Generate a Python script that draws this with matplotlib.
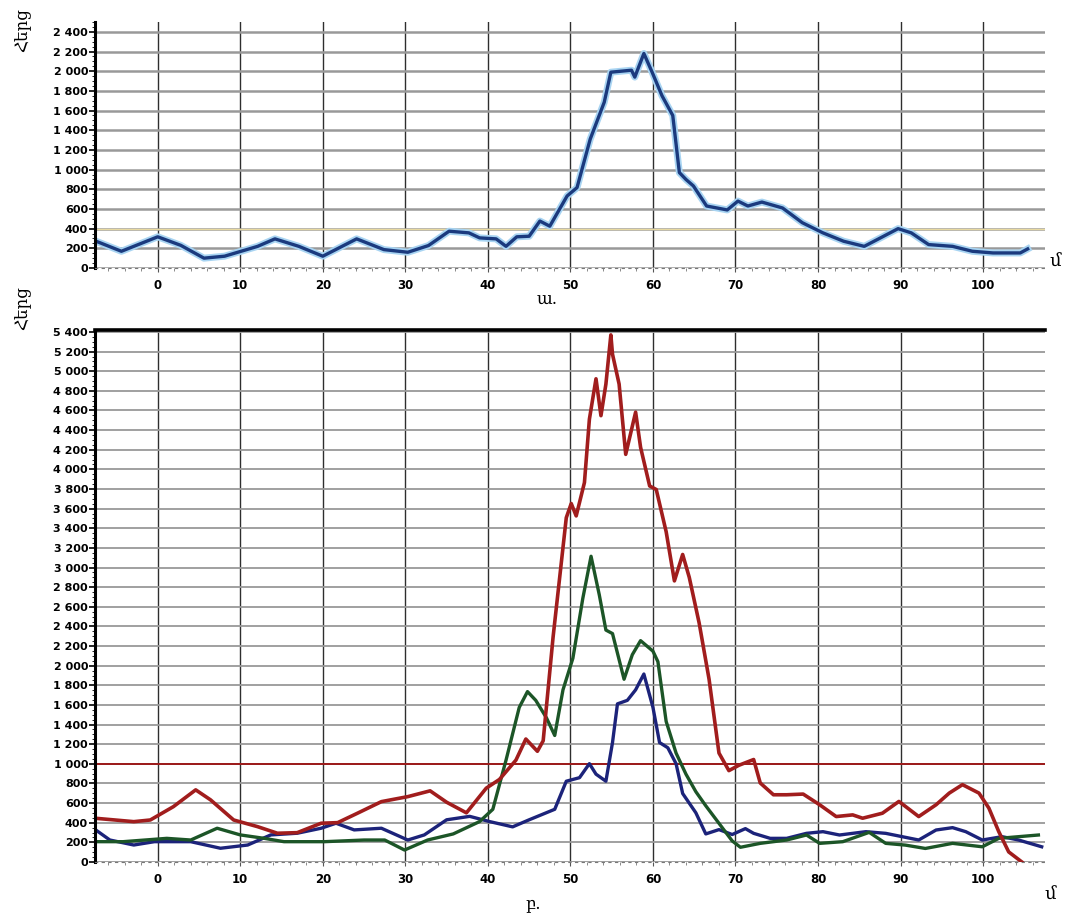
import numpy as np
import matplotlib
matplotlib.use("Agg")
import matplotlib.pyplot as plt
from matplotlib.ticker import FuncFormatter, MultipleLocator

# top chart (ա.) - one series
top_x = [-8, -4.4, 0, 2.8, 5.6, 8.1, 12.1, 14.2, 17.1, 20, 24.1, 27.4, 30.3, 32.8,
         35.3, 37.7, 39, 41, 42.2, 43.5, 45, 46.3, 47.5, 49.6, 50.8, 52.4, 54.1,
         54.9, 57.4, 57.8, 58.9, 59.9, 61.1, 62.4, 63.2, 64, 64.9, 66.5, 69, 70.3,
         71.5, 73.2, 75.7, 78.1, 80.6, 83.1, 85.6, 87.2, 89.7, 91.3, 93.4, 96.3,
         98.7, 101.2, 104.5, 105.4]
top_y = [290, 170, 317, 230, 100, 120, 220, 296, 220, 120, 296, 187, 160, 228,
         374, 357, 306, 296, 220, 317, 323, 477, 425, 732, 817, 1310, 1685,
         1990, 2010, 1940, 2180, 1990, 1750, 1550, 970, 900, 834, 630, 590, 680,
         630, 670, 610, 460, 357, 272, 220, 290, 400, 357, 238, 220,
         170, 153, 153, 194]

# bottom chart (բ.) - three series
red_x = [-7.6, -2.9, -0.9, 1.9, 4.6, 6.4, 9.2, 12.1, 14.5, 16.9, 19.8, 21.8, 24.2,
         27.1, 30.3, 33.0, 35, 37.4, 39.8, 41.4, 43.4, 44.6, 46, 46.7, 47.9, 49.5,
         50.1, 50.7, 51.7, 52.3, 53.1, 53.7, 54.3, 54.9, 55.1, 55.9, 56.7, 57.3,
         57.9, 58.5, 59.6, 60.4, 61.6, 62.6, 63.6, 64.4, 65.6, 66.8, 68, 69.2,
         70.4, 72.2, 73, 74.6, 76.2, 78.2, 80.2, 82.2, 84.2, 85.4, 87.8, 89.8,
         92.2, 94.3, 95.9, 97.5, 99.5, 100.7, 101.9, 103.1, 104.7]
red_y = [446, 411, 428, 564, 735, 633, 428, 360, 293, 299, 395, 401, 497,
         615, 666, 725, 609, 501, 752, 841, 1038, 1253, 1128, 1235, 2291, 3508,
         3652, 3526, 3866, 4511, 4923, 4547, 4869, 5370, 5173, 4869, 4153, 4368,
         4583, 4225, 3831, 3795, 3365, 2864, 3133, 2900, 2434, 1862, 1110, 931,
         985, 1044, 805, 685, 685, 692, 583, 463, 480, 446, 497, 617,
         463, 583, 702, 788, 702, 549, 309, 103, 0]

green_x = [-7.6, -4.2, 1.1, 4, 7.2, 10, 12.9, 15.3, 20.2, 25, 27.5, 29.9, 32.7,
           35.8, 39, 40.6, 42.2, 43.8, 44.8, 45.8, 47.1, 48.1, 49.1, 50.3, 51.5,
           52.5, 53.5, 54.3, 55.1, 56.5, 57.5, 58.5, 60, 60.6, 61.6, 62.8, 64,
           65.2, 66.4, 68, 69.6, 70.6, 73, 76.2, 78.6, 80.2, 83, 86.2, 88.2, 90.6,
           93, 96.3, 99.9, 101.9, 104.3, 106.7]
green_y = [207, 207, 241, 224, 344, 276, 241, 207, 207, 224, 224, 122, 224,
           286, 412, 537, 1038, 1575, 1736, 1647, 1468, 1289, 1754, 2076, 2685,
           3115, 2721, 2363, 2327, 1862, 2112, 2255, 2148, 2041, 1432, 1110, 895,
           716, 573, 394, 215, 150, 190, 224, 275, 190, 207, 302, 190, 172,
           138, 190, 155, 241, 258, 275]

blue_x = [-7.8, -5.8, -2.9, -0.4, 4, 7.6, 10.9, 13.7, 16.9, 19.8, 21.6, 23.8, 27.1,
          30.3, 32.3, 35, 37.8, 40.2, 43, 45, 48.1, 49.5, 51.1, 52.3, 53.1, 54.3,
          55.1, 55.7, 56.9, 57.9, 58.9, 60, 60.8, 61.8, 62.8, 63.6, 65.2, 66.4,
          68, 69.6, 71.2, 72.2, 74.2, 76.2, 78.6, 80.6, 82.6, 85.8, 88.2, 90.2,
          92.2, 94.3, 96.3, 97.9, 99.9, 102.3, 104.3, 107.1]
blue_y = [344, 224, 173, 207, 207, 140, 173, 276, 293, 344, 395, 327, 344,
          224, 276, 430, 465, 412, 358, 430, 537, 823, 859, 1002, 895, 823,
          1217, 1611, 1647, 1754, 1915, 1575, 1217, 1164, 1002, 698, 501, 286,
          330, 280, 340, 292, 241, 241, 292, 309, 275, 309, 292, 258,
          224, 326, 350, 309, 224, 258, 224, 155]

threshold = 1000
x_ticks = list(range(0, 101, 10))

serif = ["DejaVu Serif", "DejaVu Sans"]


def fmt(v, pos):
    v = int(round(v))
    if v >= 1000:
        return "%d %03d" % (v // 1000, v % 1000)
    return str(v)


def style_axes(ax, ymax, grid_lw):
    ax.set_xlim(-7.6, 107.5)
    ax.set_ylim(0, ymax)
    ax.set_xticks(x_ticks)
    ax.xaxis.set_minor_locator(MultipleLocator(2))
    ax.yaxis.set_major_locator(MultipleLocator(200))
    ax.yaxis.set_minor_locator(MultipleLocator(50))
    ax.yaxis.set_major_formatter(FuncFormatter(fmt))
    ax.grid(axis="x", color="#2e2e2e", lw=1.0)
    ax.grid(axis="y", color="#999999", lw=grid_lw)
    ax.set_axisbelow(True)
    for s in ["right", "top"]:
        ax.spines[s].set_visible(False)
    ax.spines["left"].set_linewidth(2.2)
    ax.spines["bottom"].set_linestyle((0, (2, 4)))
    ax.spines["bottom"].set_color("#777777")
    ax.tick_params(axis="x", length=3, color="#555555", labelsize=8.5, pad=5)
    ax.tick_params(axis="x", which="minor", length=2, color="#777777")
    ax.tick_params(axis="y", length=4, width=1.2, labelsize=8, pad=1)
    ax.tick_params(axis="y", which="minor", length=2)
    for lab in ax.get_xticklabels() + ax.get_yticklabels():
        lab.set_fontweight("bold")


fig = plt.figure(figsize=(10.66, 9.17), dpi=100)

ax1 = fig.add_axes([95 / 1066, 1 - 268 / 917, 950 / 1066, 246 / 917])
style_axes(ax1, 2500, 1.8)
ax1.axhline(400, color="#e8d9a0", lw=1.0, zorder=1)
ax1.plot(top_x, top_y, color="#a8d4f2", lw=5, solid_joinstyle="round")
ax1.plot(top_x, top_y, color="#1b3a7e", lw=2.4, solid_joinstyle="round")

ax2 = fig.add_axes([95 / 1066, 1 - 862 / 917, 950 / 1066, 532 / 917])
style_axes(ax2, 5420, 1.3)
ax2.spines["top"].set_visible(True)
ax2.spines["top"].set_linewidth(2.6)
ax2.axhline(threshold, color="#9c1a1a", lw=1.4)
ax2.plot(blue_x, blue_y, color="#1c237a", lw=2.4)
ax2.plot(green_x, green_y, color="#1c5527", lw=2.4)
ax2.plot(red_x, red_y, color="#a11d1d", lw=2.6)

fig.text(23 / 1066, 1 - 30 / 917, "Հերց", rotation=90, ha="center", va="center",
         fontsize=12, family=serif)
fig.text(23 / 1066, 1 - 308 / 917, "Հերց", rotation=90, ha="center", va="center",
         fontsize=12, family=serif)
fig.text(1055 / 1066, 1 - 262 / 917, "մ", ha="center", va="center", fontsize=13, family=serif)
fig.text(1050 / 1066, 1 - 895 / 917, "մ", ha="center", va="center", fontsize=13, family=serif)
fig.text(547 / 1066, 1 - 300 / 917, "ա.", ha="center", va="center", fontsize=12, family=serif)
fig.text(533 / 1066, 1 - 905 / 917, "բ.", ha="center", va="center", fontsize=12, family=serif)

fig.savefig("out.png", dpi=100)
